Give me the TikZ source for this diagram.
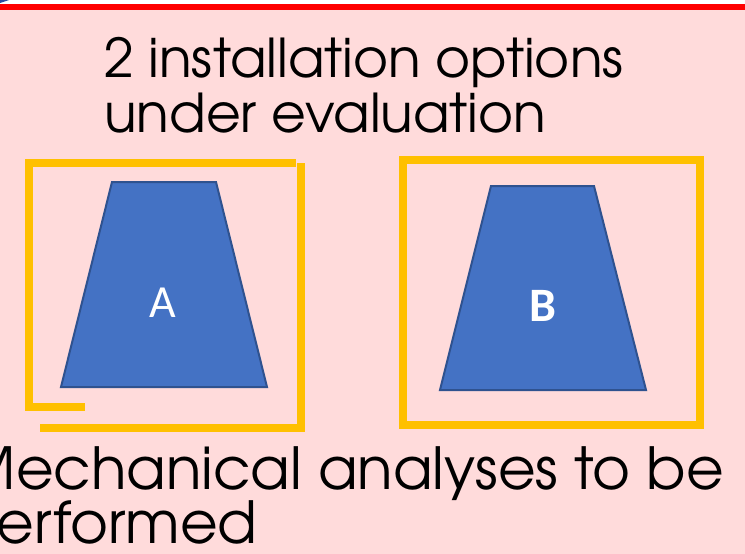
\documentclass[tikz,border=0pt]{standalone}
\usepackage{fontspec}
\setmainfont{TeX Gyre Adventor}
\newfontfamily\labelfont{Carlito}
\usetikzlibrary{positioning}
\definecolor{slidepink}{HTML}{FFDBDB}
\definecolor{framegold}{HTML}{FFC000}
\definecolor{shapeblue}{HTML}{4472C4}
\definecolor{shapeedge}{HTML}{2F528F}
\definecolor{rulered}{HTML}{FF0000}
\definecolor{logoblue}{HTML}{2B4EA0}
\tikzset{
  heading/.style={align=left, inner sep=0pt, text=black},
  goldframe/.style={draw=framegold, line width=8pt, line join=miter},
  pad/.style={fill=shapeblue, draw=shapeedge, line width=2pt},
  padlabel/.style={text=white, inner sep=0pt}
}

\begin{document}
\begin{tikzpicture}[x=1pt,y=-1pt]
  \clip (0,0) rectangle (745,554);
  % slide background and top rule
  \fill[slidepink] (0,0) rectangle (745,554);
  \fill[white] (0,0) rectangle (745,4);
  \fill[rulered] (0,4) rectangle (745,10);
  \fill[logoblue] (0,0) -- (9,0) -- (0,3) -- cycle;

  % base anchor sits on the last line
  \node[heading, font=\fontsize{53.5}{55}\selectfont, anchor=base west] (title) at (104,132)
    {2 installation options\\under evaluation};

  % option A, with the broken frame
  \draw[goldframe] (85,407) -- (29,407) -- (29,163) -- (296,163);
  \draw[goldframe] (301,163) -- (301,428) -- (40,428);
  \draw[pad] (112,182) -- (216,182) -- (267,387) -- (61,387) -- cycle;
  \node[padlabel, font=\labelfont\fontsize{46}{50}\selectfont] (labelA) at (163,303) {A};

  % option B
  \draw[goldframe] (403,160) rectangle (700,425);
  \draw[pad] (491,186) -- (594,186) -- (646,390) -- (440,390) -- cycle;
  \node[padlabel, font=\labelfont\bfseries\fontsize{48}{50}\selectfont] (labelB) at (543,306) {B};

  \node[heading, font=\fontsize{58}{54}\selectfont, anchor=base east] (todo) at (724,543)
    {Mechanical analyses to be\\Performed};
\end{tikzpicture}
\end{document}
